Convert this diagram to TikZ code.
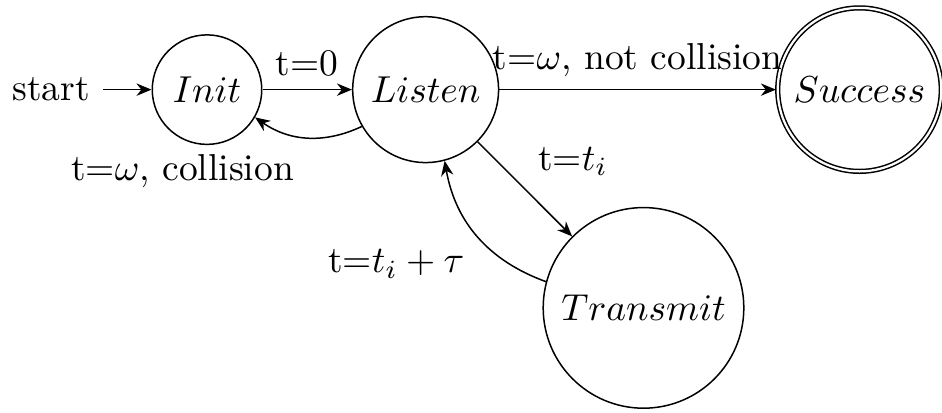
\documentclass[tikz,border=0pt]{standalone}
\usetikzlibrary{automata,arrows.meta}

\begin{document}
\begin{tikzpicture}[x=1pt, y=-1pt, ->, >={Stealth[length=4pt,width=3.3pt]}, auto,
  every state/.style={draw, circle, inner sep=0pt}, initial text=start]

  %% states
  \node[state, initial, minimum size=29.2pt] (init) at (55.2,23.9) {$Init$};
  \node[state, minimum size=38.9pt] (listen) at (113.5,23.9) {$Listen$};
  \node[state, accepting, minimum size=43.6pt] (success) at (229.2,23.9) {$Success$};
  \node[state, minimum size=53.5pt] (transmit) at (171.6,82.1) {$Transmit$};

  %% transitions
  \path (init) edge node {t=0} (listen)
        (listen) edge[bend left] node[below left, pos=0.5, yshift=-1pt] {t=$\omega$, collision} (init)
        (listen) edge node {t=$\omega$, not collision} (success)
        (listen) edge node {t=$t_i$} (transmit)
        (transmit) edge[bend left] node {t=$t_i + \tau$} (listen);

  % fix the canvas
  \pgfresetboundingbox
  \path[use as bounding box] (0,0) rectangle (251.2,109.9);
\end{tikzpicture}
\end{document}
